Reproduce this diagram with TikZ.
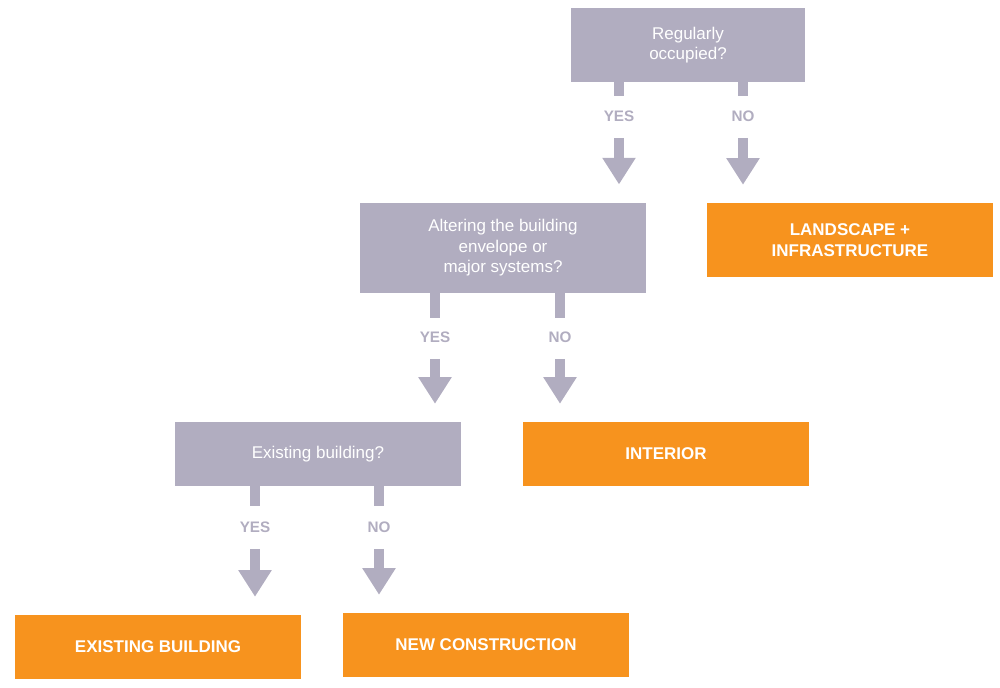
\documentclass[tikz,border=0pt]{standalone}
\usepackage{fontspec}
\setmainfont{Liberation Sans}
\usetikzlibrary{arrows.meta}
\definecolor{qgray}{HTML}{B1ADC0}
\definecolor{aorange}{HTML}{F7931E}
\tikzset{
	box/.style={align=center,inner sep=0pt,text=white,minimum width=8.6cm},
	question/.style={box,fill=qgray,font=\fontsize{14.5}{17.5}\selectfont},
	answer/.style={box,fill=aorange,font=\bfseries\fontsize{14.5}{17.5}\selectfont,minimum height=1.9cm},
	choice/.style={text=qgray,font=\bfseries\fontsize{13}{15}\selectfont,inner sep=1pt},
	stub/.style={draw=qgray,line width=0.3cm},
	flow/.style={draw=qgray,line width=0.3cm,-{Triangle[width=0.95cm,length=0.8cm]},shorten >=0.55cm,shorten <=0.45cm}
}
\begin{document}
\begin{tikzpicture}[x=0.03cm,y=-0.03cm]
	\useasboundingbox (0,0) rectangle (1000,687);
	%BOXES
	\node[question,minimum width=7cm,minimum height=2.22cm] (q1) at (688,45) {Regularly\\occupied?};
	\node[question,minimum height=2.7cm] (q2) at (503,248) {Altering the building\\envelope or\\major systems?};
	\node[question,minimum height=1.9cm] (q3) at (318,454) {Existing building?};
	\node[answer,minimum height=2.2cm] (land) at (850,240) {LANDSCAPE +\\INFRASTRUCTURE};
	\node[answer] (inter) at (666,454) {INTERIOR};
	\node[answer] (exist) at (158,647) {EXISTING BUILDING};
	\node[answer] (new) at (486,645) {NEW CONSTRUCTION};
	%CHOICES
	\node[choice] (y1) at (619,116) {YES};	\node[choice] (n1) at (743,116) {NO};
	\node[choice] (y2) at (435,337) {YES};	\node[choice] (n2) at (560,337) {NO};
	\node[choice] (y3) at (255,527) {YES};	\node[choice] (n3) at (379,527) {NO};
	%STUBS
	\draw[stub] (y1 |- q1.south) -- ++(0,14);	\draw[stub] (n1 |- q1.south) -- ++(0,14);
	\draw[stub] (y2 |- q2.south) -- ++(0,25);	\draw[stub] (n2 |- q2.south) -- ++(0,25);
	\draw[stub] (y3 |- q3.south) -- ++(0,20);	\draw[stub] (n3 |- q3.south) -- ++(0,20);
	%ARROWS
	\draw[flow] (y1.south) -- (y1 |- q2.north);	\draw[flow] (n1.south) -- (n1 |- land.north);
	\draw[flow] (y2.south) -- (y2 |- q3.north);	\draw[flow] (n2.south) -- (n2 |- inter.north);
	\draw[flow] (y3.south) -- (y3 |- exist.north);	\draw[flow] (n3.south) -- (n3 |- new.north);
\end{tikzpicture}
\end{document}
